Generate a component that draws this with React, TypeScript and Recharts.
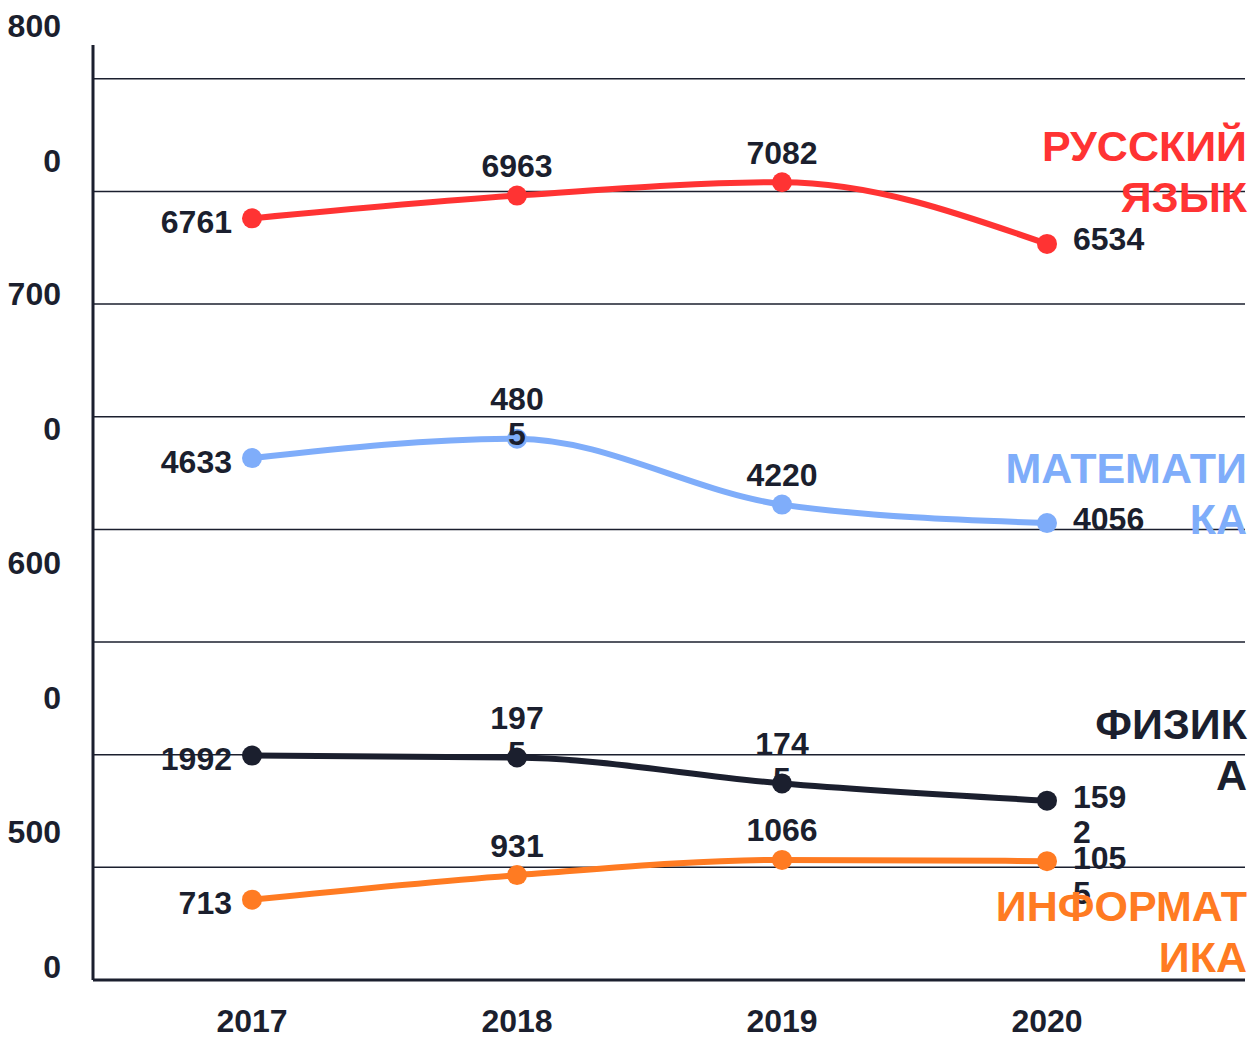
import { LineChart, Line, XAxis, YAxis, CartesianGrid, LabelList } from 'recharts'

const YEARS = ['2017', '2018', '2019', '2020']
const RUSSIAN = [6761, 6963, 7082, 6534]
const MATH = [4633, 4805, 4220, 4056]
const PHYSICS = [1992, 1975, 1745, 1592]
const INFORMATICS = [713, 931, 1066, 1055]

// value axis ticks (gridlines) and the wrapped labels printed on the left
const GRID_TICKS = [0, 1000, 2000, 3000, 4000, 5000, 6000, 7000, 8000]
const Y_LABELS = [5000, 6000, 7000, 8000]

const NAME_LINES = [
  ['РУССКИЙ', 'ЯЗЫК'],
  ['МАТЕМАТИ', 'КА'],
  ['ФИЗИК', 'А'],
  ['ИНФОРМАТ', 'ИКА'],
]

const RED = '#ff3333'
const BLUE = '#7fadfa'
const NAVY = '#1b1f2e'
const ORANGE = '#ff7b22'

const W = 1255
const H = 1039
const FONT = "'Liberation Sans', Arial, sans-serif"
const LABEL_SIZE = 32

const data = YEARS.map((year, i) => ({
  year,
  russian: RUSSIAN[i],
  math: MATH[i],
  physics: PHYSICS[i],
  informatics: INFORMATICS[i],
}))

const series = [
  { key: 'russian', color: RED, nameTop: 121 },
  { key: 'math', color: BLUE, nameTop: 443 },
  { key: 'physics', color: NAVY, nameTop: 699 },
  { key: 'informatics', color: ORANGE, nameTop: 881 },
]

// where each value label sits relative to its point, and which ones wrap
const LABEL_SIDE = ['left', 'top', 'top', 'right']
const WRAPPED: Record<string, number[]> = { math: [1], physics: [1, 2, 3], informatics: [3] }

function pointLabel(key: string) {
  return (props: any) => {
    const { x, y, value, index } = props
    const s = String(value)
    const wrap = (WRAPPED[key] || []).includes(index)
    const lines = wrap ? [s.slice(0, 3), s.slice(3)] : [s]
    const side = LABEL_SIDE[index]
    let tx = x
    let anchor: 'start' | 'middle' | 'end' = 'middle'
    let centers: number[] = []
    if (side === 'left') {
      tx = x - 20
      anchor = 'end'
      centers = [y + 3]
    } else if (side === 'top') {
      centers = wrap ? [y - 40, y - 5] : [y - 30]
    } else {
      tx = x + 26
      anchor = 'start'
      centers = wrap ? [y - 4, y + 31] : [y - 5]
    }
    return (
      <g>
        {lines.map((t, i) => (
          <text key={i} x={tx} y={centers[i] + 11.5} textAnchor={anchor}
            fontSize={LABEL_SIZE} fontWeight={700} fill={NAVY} fontFamily={FONT}>
            {t}
          </text>
        ))}
      </g>
    )
  }
}

function YTick(props: any) {
  const { x, y, payload } = props
  const s = String(payload.value)
  return (
    <g>
      <text x={x} y={y - 67.5 + 11.5} textAnchor="end" fontSize={LABEL_SIZE} fontWeight={700} fill={NAVY} fontFamily={FONT}>
        {s.slice(0, -1)}
      </text>
      <text x={x} y={y + 67.5 + 11.5} textAnchor="end" fontSize={LABEL_SIZE} fontWeight={700} fill={NAVY} fontFamily={FONT}>
        {s.slice(-1)}
      </text>
    </g>
  )
}

export default function App() {
  return (
    <div style={{ position: 'absolute', left: 0, top: 0, width: W, height: H, background: '#fff', fontFamily: FONT }}>
      <LineChart width={W} height={H} data={data} margin={{ top: 45, right: 10, bottom: 0, left: 0 }}>
        <CartesianGrid yAxisId="main" vertical={false} syncWithTicks stroke={NAVY} strokeWidth={1.5} />
        <XAxis
          dataKey="year"
          height={59}
          padding={{ left: 159, right: 198 }}
          tickLine={false}
          tickSize={0}
          tickMargin={29}
          axisLine={{ stroke: NAVY, strokeWidth: 3 }}
          tick={{ fontSize: 32, fontWeight: 700, fill: NAVY, fontFamily: FONT }}
        />
        <YAxis
          yAxisId="labels"
          type="number"
          domain={[4697, 8178]}
          allowDataOverflow
          ticks={Y_LABELS}
          interval={0}
          width={93}
          tickLine={false}
          tickSize={0}
          tickMargin={32}
          axisLine={{ stroke: NAVY, strokeWidth: 3 }}
          tick={(p: any) => <YTick {...p} />}
        />
        <YAxis yAxisId="main" hide type="number" domain={[0, 8300]} ticks={GRID_TICKS} interval={0} />
        {series.map((s) => (
          <Line
            key={s.key}
            yAxisId="main"
            dataKey={s.key}
            type="monotone"
            stroke={s.color}
            strokeWidth={6}
            dot={{ r: 10, fill: s.color, stroke: 'none' }}
            activeDot={false}
            isAnimationActive={false}
          >
            <LabelList dataKey={s.key} content={pointLabel(s.key)} />
          </Line>
        ))}
      </LineChart>
      {series.map((s, i) => (
        <div
          key={s.key}
          style={{
            position: 'absolute',
            right: 8,
            top: s.nameTop,
            textAlign: 'right',
            color: s.color,
            fontSize: 43,
            fontWeight: 700,
            lineHeight: '51px',
            whiteSpace: 'nowrap',
          }}
        >
          {NAME_LINES[i].map((line) => (
            <div key={line}>{line}</div>
          ))}
        </div>
      ))}
    </div>
  )
}
